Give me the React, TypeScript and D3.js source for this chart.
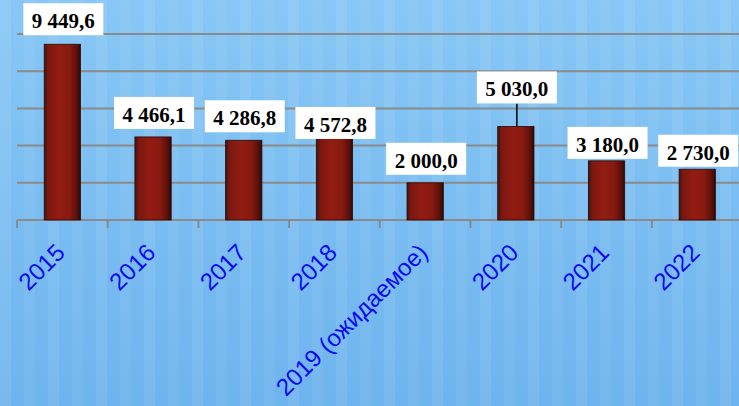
import React from "react";
import * as d3 from "d3";

const categories = ["2015", "2016", "2017", "2018", "2019 (ожидаемое)", "2020", "2021", "2022"];
const values = [9449.6, 4466.1, 4286.8, 4572.8, 2000.0, 5030.0, 3180.0, 2730.0];
const valueLabels = ["9 449,6", "4 466,1", "4 286,8", "4 572,8", "2 000,0", "5 030,0", "3 180,0", "2 730,0"];
const yTicks = [0, 2000, 4000, 6000, 8000, 10000];

// layout: gap between label box bottom and bar top (manual label placement)
const labelGap = [9, 8, 8, -4, 8, 23, 2, 2.5];

const W = 739;
const H = 406;
const left = 17;
const step = 90.7;
const right = left + step * categories.length;

export default function App() {
  const x = d3.scaleBand<string>().domain(categories).range([left, right]).paddingInner(0.6).paddingOuter(0.3);
  const y = d3.scaleLinear().domain([0, 10000]).range([220, 34]);
  const boundaries = d3.range(categories.length + 1).map((i) => left + i * x.step());
  const stripes = d3.range(0, W, 24);

  return (
    <svg width={W} height={H} style={{ position: "absolute", left: 0, top: 0, display: "block" }}>
      <defs>
        <linearGradient id="bg" x1="0" y1="0" x2="0" y2="1">
          <stop offset="0" stopColor="#88c7f5" />
          <stop offset="0.5" stopColor="#7bbdf1" />
          <stop offset="1" stopColor="#6eb4ee" />
        </linearGradient>
        <linearGradient id="bar" x1="0" y1="0" x2="1" y2="0">
          <stop offset="0" stopColor="#3a1410" />
          <stop offset="0.1" stopColor="#7a1810" />
          <stop offset="0.4" stopColor="#921c12" />
          <stop offset="0.7" stopColor="#871a10" />
          <stop offset="0.9" stopColor="#5a100a" />
          <stop offset="1" stopColor="#2a0a08" />
        </linearGradient>
      </defs>
      <rect x={0} y={0} width={W} height={H} fill="url(#bg)" />
      {stripes.map((s, i) => (
        <rect key={i} x={s} y={0} width={11} height={H} fill="#ffffff" opacity={i % 2 ? 0.05 : 0.08} />
      ))}
      {yTicks.slice(1).map((t) => (
        <line key={t} x1={left} x2={W} y1={y(t)} y2={y(t)} stroke="#8a8a8a" strokeWidth={2} />
      ))}
      <line x1={left} x2={W} y1={y(0)} y2={y(0)} stroke="#8a8a8a" strokeWidth={2} />
      {boundaries.map((b, i) => (
        <line key={i} x1={b} x2={b} y1={y(0)} y2={y(0) + 8} stroke="#8a8a8a" strokeWidth={2} />
      ))}
      {categories.map((c, i) => (
        <rect
          key={c}
          x={x(c)!}
          y={y(values[i])}
          width={x.bandwidth()}
          height={y(0) - y(values[i])}
          fill="url(#bar)"
          stroke="#2a0806"
          strokeWidth={0.8}
        />
      ))}
      {categories.map((c, i) => {
        const cx = x(c)! + x.bandwidth() / 2 + 1;
        const top = y(values[i]);
        const bottom = top - labelGap[i];
        const bw = 80;
        const bh = 32;
        return (
          <g key={"l" + c}>
            {labelGap[i] > 15 && (
              <line x1={cx} x2={cx} y1={bottom} y2={top} stroke="#000" strokeWidth={1.5} />
            )}
            <rect x={cx - bw / 2} y={bottom - bh} width={bw} height={bh} fill="#ffffff" />
            <text
              x={cx}
              y={bottom - bh + 25}
              textAnchor="middle"
              fontFamily="'Liberation Serif', 'Times New Roman', serif"
              fontWeight="bold"
              fontSize={21}
              fill="#000"
            >
              {valueLabels[i]}
            </text>
          </g>
        );
      })}
      {categories.map((c) => {
        const cx = x(c)! + x.bandwidth() / 2 + 4;
        const cy = 254;
        return (
          <text
            key={"x" + c}
            x={cx}
            y={cy}
            transform={`rotate(-45 ${cx} ${cy})`}
            textAnchor="end"
            fontFamily="'Liberation Sans', Arial, sans-serif"
            fontSize={24}
            fill="#0a0af0"
          >
            {c}
          </text>
        );
      })}
    </svg>
  );
}
